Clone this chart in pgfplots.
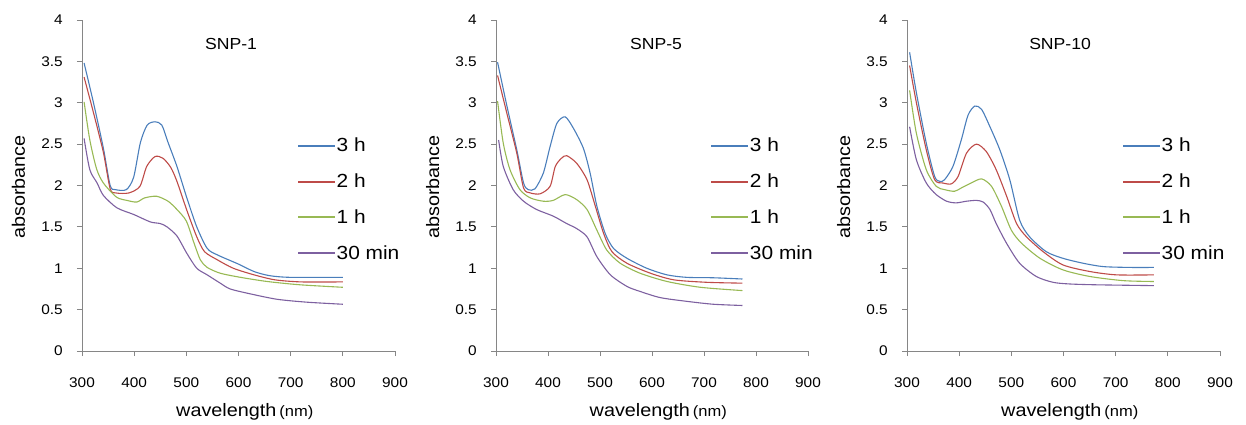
\documentclass[border=0pt]{standalone}
\usepackage{fontspec}
\setmainfont{Liberation Sans}[FakeStretch=1.1]
\usepackage{pgfplots}
\pgfplotsset{compat=1.18}

\definecolor{axgray}{HTML}{868686}
\definecolor{cblue}{HTML}{4A7EBB}
\definecolor{cred}{HTML}{BE4B48}
\definecolor{cgreen}{HTML}{98B954}
\definecolor{cpurple}{HTML}{7D60A0}

\pgfplotsset{
  panel/.style={
    scale only axis, width=313pt, height=331pt,
    xmin=300, xmax=900, ymin=0, ymax=4,
    xtick={300,400,...,900}, ytick={0,0.5,...,4},
    axis lines=left,
    axis line style={-, draw=axgray, line width=0.9pt},
    tick align=outside, major tick length=5pt,
    tick style={draw=axgray, line width=0.9pt},
    /pgf/number format/assume math mode=true,
    tick label style={font=\fontsize{14}{16}\selectfont},
    yticklabel style={anchor=east, inner sep=0pt, xshift=-14pt},
    xticklabel style={anchor=base, inner sep=0pt, yshift=-31pt},
    xlabel={wavelength\,{\fontsize{15}{15}\selectfont(nm)}},
    ylabel={absorbance},
    x label style={at={(axis description cs:0.52,0)}, anchor=base, inner sep=0pt, yshift=-65pt, font=\fontsize{18}{20}\selectfont},
    y label style={at={(axis description cs:0,0.495)}, anchor=base, inner sep=0pt, yshift=57pt, font=\fontsize{18}{20}\selectfont},
    legend cell align=left,
    legend style={draw=none, fill=none, anchor=north west, at={(0.69,0.648)},
      inner sep=0pt, row sep=17.5pt, font=\fontsize{19}{21}\selectfont,
      nodes={inner sep=1.5pt}},
    legend image code/.code={\fill[#1, draw=none] (0pt,-0.9pt) rectangle (37pt,0.9pt);},
    every axis plot/.append style={line width=1.1pt, smooth, tension=0.45},
  }
}

\begin{document}
\begin{tikzpicture}
\useasboundingbox (0,0) rectangle (1246pt,424pt);

% SNP-1
\begin{axis}[panel, at={(82pt,73pt)}, anchor=south west]
\addplot[cblue] coordinates {(304,3.48)(322,3.00)(341,2.45)(354,2.00)(364,1.95)(385,1.95)(399,2.10)(412,2.52)(425,2.73)(440,2.77)(453,2.73)(465,2.52)(482,2.23)(501,1.85)(520,1.50)(540,1.24)(560,1.16)(600,1.05)(630,0.96)(660,0.91)(700,0.89)(800,0.89)};
\addplot[cred] coordinates {(304,3.31)(322,2.88)(341,2.40)(354,1.96)(365,1.91)(390,1.91)(411,1.99)(424,2.23)(440,2.35)(455,2.33)(470,2.22)(482,2.05)(501,1.70)(520,1.38)(535,1.20)(560,1.10)(590,1.00)(630,0.92)(670,0.86)(720,0.835)(800,0.835)};
\addplot[cgreen] coordinates {(304,3.01)(315,2.55)(328,2.20)(341,2.03)(366,1.86)(386,1.82)(405,1.80)(420,1.85)(443,1.87)(465,1.81)(482,1.71)(500,1.57)(515,1.30)(527,1.10)(540,1.01)(565,0.94)(604,0.89)(655,0.84)(718,0.80)(800,0.77)};
\addplot[cpurple] coordinates {(304,2.57)(315,2.19)(329,2.03)(341,1.88)(367,1.73)(399,1.65)(431,1.56)(450,1.54)(463,1.50)(482,1.39)(501,1.18)(520,1.00)(540,0.92)(565,0.82)(584,0.75)(623,0.69)(674,0.625)(731,0.59)(800,0.565)};
\legend{3 h,2 h,1 h,30 min}
\node[font=\fontsize{16}{18}\selectfont] at (rel axis cs:0.476,0.927) {SNP-1};
\end{axis}

% SNP-5
\begin{axis}[panel, width=312pt, at={(496pt,73pt)}, anchor=south west]
\addplot[cblue] coordinates {(303,3.49)(321,2.96)(340,2.43)(353,2.03)(362,1.95)(375,1.96)(391,2.15)(404,2.47)(417,2.75)(433,2.83)(449,2.69)(468,2.45)(481,2.15)(494,1.75)(510,1.42)(526,1.24)(552,1.12)(590,1.00)(629,0.92)(667,0.89)(718,0.885)(774,0.87)};
\addplot[cred] coordinates {(303,3.33)(321,2.87)(340,2.39)(353,1.97)(366,1.91)(385,1.90)(404,1.99)(414,2.23)(426,2.33)(436,2.36)(455,2.27)(475,2.07)(491,1.75)(507,1.42)(523,1.20)(552,1.06)(597,0.94)(642,0.86)(706,0.83)(774,0.82)};
\addplot[cgreen] coordinates {(303,3.02)(314,2.51)(327,2.19)(346,1.95)(366,1.85)(391,1.81)(410,1.82)(433,1.89)(455,1.83)(475,1.71)(494,1.46)(513,1.22)(539,1.06)(577,0.94)(629,0.84)(693,0.77)(774,0.73)};
\addplot[cpurple] coordinates {(305,2.55)(314,2.23)(333,1.95)(353,1.81)(378,1.71)(410,1.63)(436,1.54)(455,1.48)(475,1.38)(494,1.14)(520,0.92)(552,0.78)(577,0.72)(616,0.645)(667,0.60)(718,0.565)(774,0.55)};
\legend{3 h,2 h,1 h,30 min}
\node[font=\fontsize{16}{18}\selectfont] at (rel axis cs:0.513,0.927) {SNP-5};
\end{axis}

% SNP-10
\begin{axis}[panel, at={(907pt,73pt)}, anchor=south west]
\addplot[cblue] coordinates {(305,3.61)(318,3.12)(337,2.51)(353,2.11)(363,2.05)(372,2.07)(388,2.23)(404,2.55)(417,2.85)(430,2.96)(443,2.92)(459,2.71)(478,2.43)(497,2.07)(516,1.58)(535,1.38)(567,1.20)(599,1.12)(638,1.06)(676,1.02)(727,1.01)(773,1.01)};
\addplot[cred] coordinates {(305,3.45)(318,3.00)(337,2.43)(353,2.07)(369,2.03)(385,2.02)(398,2.11)(414,2.39)(433,2.50)(452,2.41)(471,2.19)(491,1.87)(510,1.54)(529,1.38)(561,1.20)(599,1.04)(651,0.96)(702,0.92)(773,0.92)};
\addplot[cgreen] coordinates {(305,3.15)(318,2.63)(337,2.19)(356,1.99)(372,1.95)(391,1.93)(404,1.97)(423,2.03)(443,2.08)(462,1.99)(481,1.75)(500,1.46)(520,1.30)(555,1.12)(599,0.98)(651,0.90)(715,0.85)(773,0.84)};
\addplot[cpurple] coordinates {(305,2.71)(318,2.31)(337,2.03)(356,1.89)(376,1.81)(394,1.79)(414,1.81)(433,1.82)(446,1.80)(459,1.71)(471,1.54)(491,1.30)(516,1.06)(548,0.90)(580,0.83)(612,0.81)(663,0.80)(773,0.79)};
\legend{3 h,2 h,1 h,30 min}
\node[font=\fontsize{16}{18}\selectfont] at (rel axis cs:0.489,0.927) {SNP-10};
\end{axis}
\end{tikzpicture}
\end{document}
